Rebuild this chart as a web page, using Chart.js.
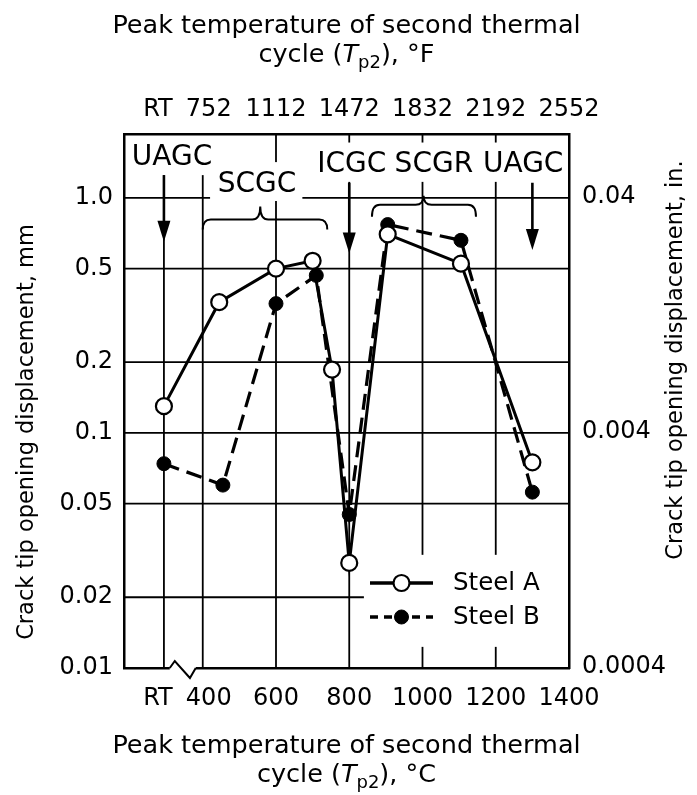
<!DOCTYPE html>
<html>
<head>
<meta charset="utf-8">
<script src="https://cdn.jsdelivr.net/npm/chart.js@4.4.1/dist/chart.umd.min.js"></script>
<style>
  html, body { margin: 0; padding: 0; background: #fff; }
</style>
</head>
<body>
<canvas id="chart" width="697" height="795"></canvas>
<script>
// CTOD (mm) against peak temperature of the 2nd thermal cycle (deg C)
var series = ['Steel A', 'Steel B'];
var tempA = ['RT', 445, 600, 700, 753, 800, 905, 1105, 1300];
var ctodA = [0.13, 0.36, 0.5, 0.54, 0.186, 0.028, 0.70, 0.525, 0.075];
var tempB = ['RT', 455, 600, 710, 800, 905, 1105, 1300];
var ctodB = [0.074, 0.06, 0.355, 0.468, 0.045, 0.77, 0.66, 0.056];

var ticksC = ['RT', 400, 600, 800, 1000, 1200, 1400];
var ticksF = ['RT', 752, 1112, 1472, 1832, 2192, 2552];
var ticksMm = [0.01, 0.02, 0.05, 0.1, 0.2, 0.5, 1.0];
var labelsMm = ['0.01', '0.02', '0.05', '0.1', '0.2', '0.5', '1.0'];
var ticksIn = [0.0004, 0.004, 0.04];
var labelsIn = ['0.0004', '0.004', '0.04'];
var zones = ['UAGC', 'SCGC', 'ICGC', 'SCGR', 'UAGC'];

var RT_POS = 294;   // where "RT" sits on the broken axis
var X_MIN = 185, X_MAX = 1400, Y_MIN = 0.01, Y_MAX = 1.87;
var FONT = '"DejaVu Sans", sans-serif';

function xPos(t) { return t === 'RT' ? RT_POS : t; }
function pts(ts, vs) {
  return ts.map(function(t, i) { return { x: xPos(t), y: vs[i] }; });
}
function fixTicks(vals) {
  return function(scale) {
    scale.ticks = vals.map(function(v) { return { value: v }; });
  };
}
// RT and the next label sit close together, nudge them apart a little
function spaced(labels) {
  return function(v, i) {
    var s = String(labels[i]);
    if (i === 0) return s + '\u2002';
    if (i === 1) return '\u2002' + s;
    return s;
  };
}
function line(ctx, x0, y0, x1, y1) {
  ctx.beginPath(); ctx.moveTo(x0, y0); ctx.lineTo(x1, y1); ctx.stroke();
}
function arrow(ctx, x, y0, y1) {
  ctx.lineWidth = 2.6;
  line(ctx, x, y0, x, y1 - 15);
  ctx.beginPath();
  ctx.moveTo(x - 6.5, y1 - 21);
  ctx.lineTo(x + 6.5, y1 - 21);
  ctx.lineTo(x, y1);
  ctx.closePath();
  ctx.fill();
}
function brace(ctx, x0, xm, x1, y, drop, rise) {
  var r = 8;
  ctx.lineWidth = 2;
  ctx.beginPath();
  ctx.moveTo(x0, y + drop);
  ctx.quadraticCurveTo(x0, y, x0 + r, y);
  ctx.lineTo(xm - r, y);
  ctx.quadraticCurveTo(xm, y, xm, y - rise);
  ctx.quadraticCurveTo(xm, y, xm + r, y);
  ctx.lineTo(x1 - r, y);
  ctx.quadraticCurveTo(x1, y, x1, y + drop);
  ctx.stroke();
}
// "cycle (Tp2), unit" with italic T and subscript p2
function cycleLine(ctx, cx, y, unit) {
  var parts = [
    ['cycle (', '25.5px ' + FONT, 0],
    ['T', 'italic 25.5px ' + FONT, 0],
    ['p2', '18px ' + FONT, 6],
    ['), ' + unit, '25.5px ' + FONT, 0]
  ];
  var w = 0;
  parts.forEach(function(p) { ctx.font = p[1]; p.push(ctx.measureText(p[0]).width); w += p[3]; });
  var x = cx - w / 2;
  ctx.textAlign = 'left';
  parts.forEach(function(p) {
    ctx.font = p[1];
    ctx.fillText(p[0], x, y + p[2]);
    x += p[3];
  });
}

var paper = {
  id: 'paper',
  beforeDatasetsDraw: function(c) {
    var ctx = c.ctx, a = c.chartArea, xs = c.scales.x, ys = c.scales.y;
    ctx.save();
    ctx.strokeStyle = '#000';
    ctx.lineWidth = 1.8;
    ticksC.map(xPos).forEach(function(v) {
      if (v >= X_MAX) return;
      var px = xs.getPixelForValue(v);
      line(ctx, px, a.top, px, a.bottom);
    });
    ticksMm.forEach(function(v) {
      if (v <= Y_MIN || v >= Y_MAX) return;
      var py = ys.getPixelForValue(v);
      line(ctx, a.left, py, a.right, py);
    });
    // gaps the figure leaves in the grid for labels and the key
    ctx.fillStyle = '#fff';
    [[X_MIN, 520, 1.25, Y_MAX], [420, 672, 0.97, 1.42], [700, X_MAX, 1.17, 1.72], [840, X_MAX, 0.0123, 0.0303]]
      .forEach(function(r) {
        var x0 = xs.getPixelForValue(r[0]), x1 = xs.getPixelForValue(r[1]);
        var y0 = ys.getPixelForValue(r[3]), y1 = ys.getPixelForValue(r[2]);
        ctx.fillRect(x0, y0, x1 - x0, y1 - y0);
      });
    ctx.restore();
  },
  afterDatasetsDraw: function(c) {
    var ctx = c.ctx, a = c.chartArea, xs = c.scales.x, ys = c.scales.y;
    var X = function(v) { return xs.getPixelForValue(v); };
    var Y = function(v) { return ys.getPixelForValue(v); };
    ctx.save();
    ctx.fillStyle = '#000';
    ctx.strokeStyle = '#000';
    ctx.font = '28px ' + FONT;
    ctx.textAlign = 'center';
    ctx.textBaseline = 'alphabetic';
    ctx.fillText(zones[0], X(316), Y(1.38));
    ctx.fillText(zones[1], X(548), Y(1.06));
    ctx.fillText(zones[2], X(807), Y(1.29));
    ctx.fillText(zones[3], X(1031), Y(1.29));
    ctx.fillText(zones[4], X(1275), Y(1.29));
    arrow(ctx, X(RT_POS), Y(1.25), Y(0.65));
    arrow(ctx, X(800), Y(1.16), Y(0.58));
    arrow(ctx, X(1300), Y(1.16), Y(0.6));
    brace(ctx, X(400), X(557), X(740), Y(0.81), 10, 13);
    brace(ctx, X(862), X(1003), X(1146), Y(0.934), 12, 9);

    // key
    c.data.datasets.forEach(function(ds, i) {
      var y = a.bottom - 85 + i * 34;
      var x0 = a.left + 246, x1 = a.left + 309, xm = (x0 + x1) / 2;
      ctx.lineWidth = 3.6;
      ctx.setLineDash(i ? [8, 6] : []);
      line(ctx, x0, y, x1, y);
      ctx.setLineDash([]);
      ctx.beginPath();
      ctx.arc(xm, y, ds.pointRadius, 0, Math.PI * 2);
      ctx.fillStyle = ds.pointBackgroundColor;
      ctx.fill();
      ctx.lineWidth = ds.pointBorderWidth;
      ctx.stroke();
      ctx.fillStyle = '#000';
      ctx.font = '24.5px ' + FONT;
      ctx.textAlign = 'left';
      ctx.textBaseline = 'middle';
      ctx.fillText(ds.label, a.left + 329, y + 1);
    });
    ctx.restore();
  },
  afterDraw: function(c) {
    var ctx = c.ctx, a = c.chartArea, xs = c.scales.x;
    var p0 = xs.getPixelForValue(RT_POS), w = xs.getPixelForValue(400) - p0;
    ctx.save();
    // axis break between RT and 400
    ctx.fillStyle = '#fff';
    ctx.fillRect(p0 + w * 0.15, a.bottom - 3, w * 0.67, 6);
    ctx.strokeStyle = '#000';
    ctx.lineWidth = 2;
    ctx.beginPath();
    ctx.moveTo(p0 + w * 0.15, a.bottom);
    ctx.lineTo(p0 + w * 0.28, a.bottom - 7);
    ctx.lineTo(p0 + w * 0.67, a.bottom + 10);
    ctx.lineTo(p0 + w * 0.82, a.bottom);
    ctx.stroke();

    // axis titles
    var cx = (a.left + a.right) / 2;
    ctx.fillStyle = '#000';
    ctx.textBaseline = 'alphabetic';
    ctx.textAlign = 'center';
    ctx.font = '25.5px ' + FONT;
    ctx.fillText('Peak temperature of second thermal', cx, 33);
    cycleLine(ctx, cx, 62, '\u00B0F');
    ctx.textAlign = 'center';
    ctx.font = '25.5px ' + FONT;
    ctx.fillText('Peak temperature of second thermal', cx, 753);
    cycleLine(ctx, cx, 782, '\u00B0C');

    ctx.font = '22.5px ' + FONT;
    ctx.textAlign = 'center';
    ctx.textBaseline = 'middle';
    ctx.save();
    ctx.translate(27, 432);
    ctx.rotate(-Math.PI / 2);
    ctx.fillText('Crack tip opening displacement, mm', 0, 0);
    ctx.restore();
    ctx.save();
    ctx.translate(676, 360);
    ctx.rotate(-Math.PI / 2);
    ctx.fillText('Crack tip opening displacement, in.', 0, 0);
    ctx.restore();
    ctx.restore();
  }
};

var tickFont = { family: FONT, size: 24 };
var edge = { display: true, color: '#000', width: 2.5, z: 1 };
var noGrid = { drawOnChartArea: false, drawTicks: false };

new Chart(document.getElementById('chart'), {
  type: 'line',
  data: {
    datasets: [{
      label: series[0],
      data: pts(tempA, ctodA),
      borderColor: '#000',
      borderWidth: 3,
      pointRadius: 8,
      pointBorderWidth: 2.2,
      pointBackgroundColor: '#fff',
      pointBorderColor: '#000',
      tension: 0
    }, {
      label: series[1],
      data: pts(tempB, ctodB),
      borderColor: '#000',
      borderWidth: 3.2,
      borderDash: [16, 8],
      pointRadius: 7,
      pointBorderWidth: 1,
      pointBackgroundColor: '#000',
      pointBorderColor: '#000',
      tension: 0
    }]
  },
  options: {
    responsive: false,
    devicePixelRatio: 1,
    animation: false,
    events: [],
    layout: { padding: 0 },
    plugins: { legend: { display: false }, tooltip: { enabled: false } },
    scales: {
      x: {
        type: 'linear', position: 'bottom', min: X_MIN, max: X_MAX,
        afterBuildTicks: fixTicks(ticksC.map(xPos)),
        afterFit: function(s) { s.height = 127; },
        ticks: { autoSkip: false, maxRotation: 0, padding: 16, color: '#000', font: tickFont,
          callback: spaced(ticksC) },
        grid: noGrid, border: edge
      },
      x2: {
        type: 'linear', position: 'top', min: X_MIN, max: X_MAX,
        afterBuildTicks: fixTicks(ticksC.map(xPos)),
        afterFit: function(s) { s.height = 134; },
        ticks: { autoSkip: false, maxRotation: 0, padding: 10, color: '#000', font: tickFont,
          callback: spaced(ticksF) },
        grid: noGrid, border: edge
      },
      y: {
        type: 'logarithmic', position: 'left', min: Y_MIN, max: Y_MAX,
        afterBuildTicks: fixTicks(ticksMm),
        afterFit: function(s) { s.width = 124; },
        ticks: { autoSkip: false, padding: 11, color: '#000', font: tickFont,
          callback: function(v, i) { return labelsMm[i]; } },
        grid: noGrid, border: edge
      },
      y2: {
        type: 'logarithmic', position: 'right', min: Y_MIN / 25.4, max: Y_MAX / 25.4,
        afterBuildTicks: fixTicks(ticksIn),
        afterFit: function(s) { s.width = 128; },
        ticks: { autoSkip: false, padding: 13, color: '#000', font: tickFont,
          callback: function(v, i) { return labelsIn[i]; } },
        grid: noGrid, border: edge
      }
    }
  },
  plugins: [paper]
});
</script>
</body>
</html>
